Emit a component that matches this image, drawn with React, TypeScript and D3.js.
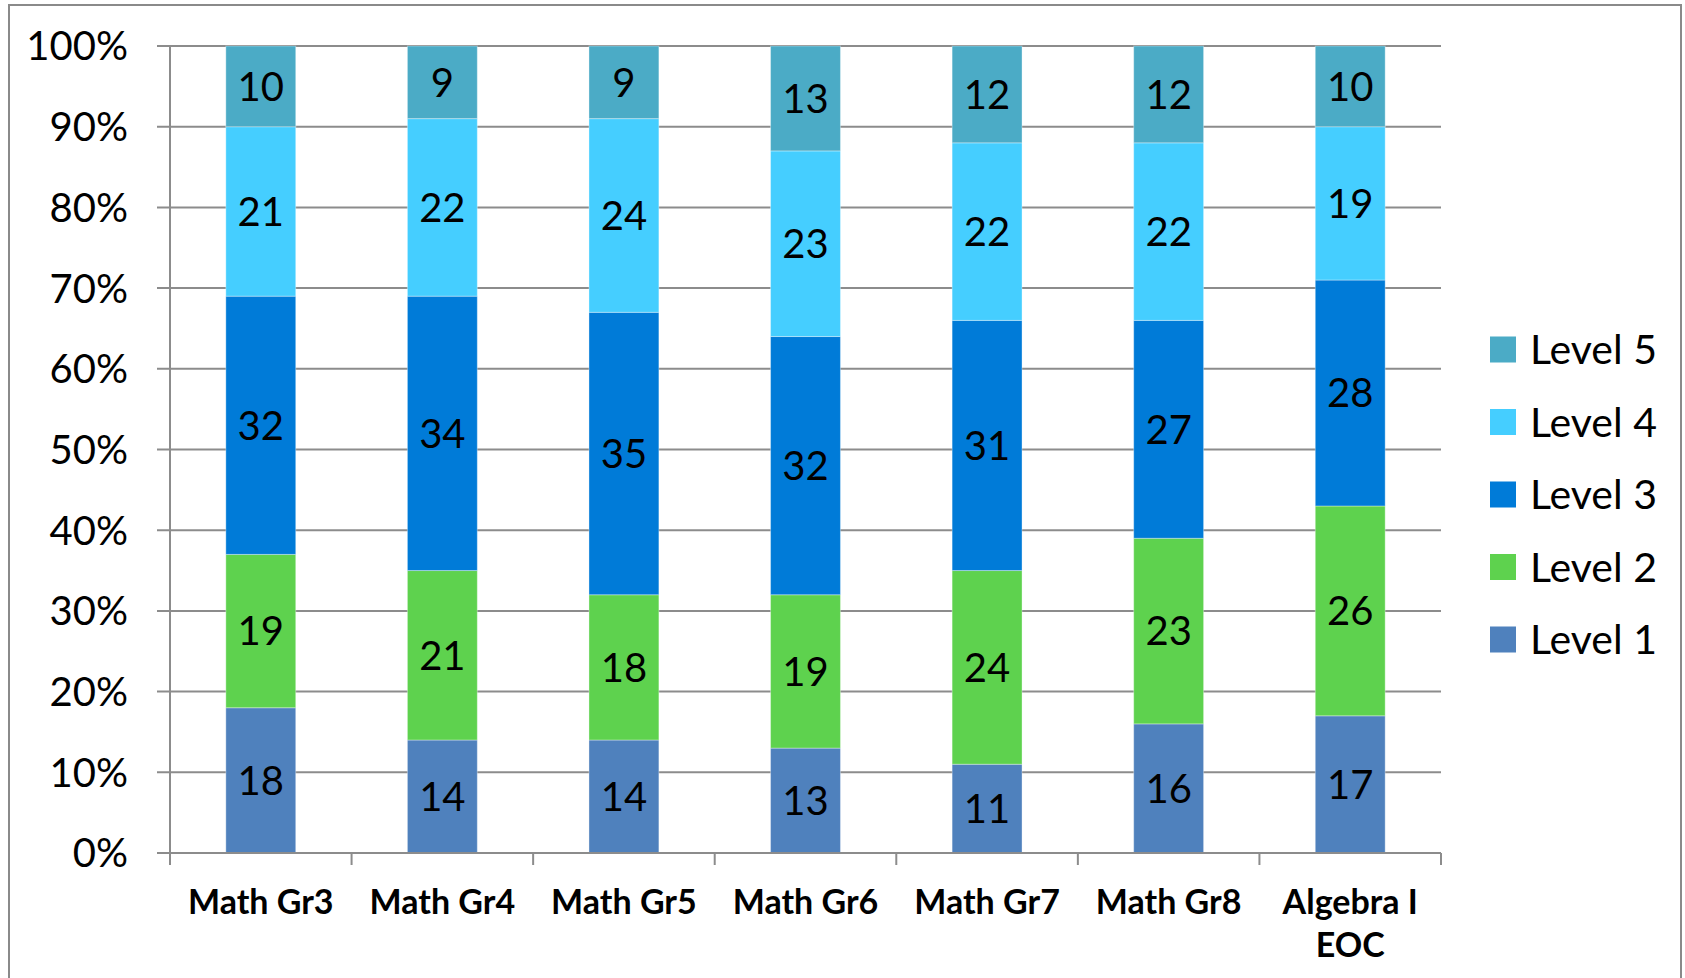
import React from "react";
import * as d3 from "d3";

// Subjects along the x axis (multi-line labels split on "\n")
const categories = [
  "Math Gr3",
  "Math Gr4",
  "Math Gr5",
  "Math Gr6",
  "Math Gr7",
  "Math Gr8",
  "Algebra I\nEOC",
];

// Percent of students at each performance level, per subject
const level1 = [18, 14, 14, 13, 11, 16, 17];
const level2 = [19, 21, 18, 19, 24, 23, 26];
const level3 = [32, 34, 35, 32, 31, 27, 28];
const level4 = [21, 22, 24, 23, 22, 22, 19];
const level5 = [10, 9, 9, 13, 12, 12, 10];

const seriesNames = ["Level 1", "Level 2", "Level 3", "Level 4", "Level 5"];
const seriesValues = [level1, level2, level3, level4, level5];
const seriesColors = ["#4F81BD", "#5ED24E", "#007BD8", "#45CEFF", "#4BABC6"];

const yTicks = [0, 10, 20, 30, 40, 50, 60, 70, 80, 90, 100];

const W = 1685;
const H = 978;
const plot = { left: 170, right: 1441, top: 46, bottom: 853 };
const FONT = "Lato, 'Open Sans', sans-serif";
const GRID = "#8C8C8C";

export default function App() {
  const x = d3
    .scaleBand<string>()
    .domain(categories)
    .range([plot.left, plot.right])
    .paddingInner(0.615)
    .paddingOuter(0.3075);
  const y = d3.scaleLinear().domain([0, 100]).range([plot.bottom, plot.top]);

  const rows = categories.map((c, i) => {
    const r: Record<string, number | string> = { cat: c };
    seriesNames.forEach((s, k) => (r[s] = seriesValues[k][i]));
    return r;
  });
  const stacked = d3.stack<Record<string, number | string>>().keys(seriesNames)(rows as any);

  const step = (plot.right - plot.left) / categories.length;
  const boundaries = d3.range(categories.length + 1).map((i) => plot.left + i * step);

  const legendOrder = [...seriesNames].reverse();

  return (
    <svg
      width={W}
      height={H}
      style={{ position: "absolute", left: 0, top: 0, background: "#fff" }}
      fontFamily={FONT}
    >
      <rect x={0} y={0} width={W} height={H} fill="#fff" />
      <rect x={9} y={5} width={1672} height={H + 20} fill="none" stroke="#8A8A8A" strokeWidth={2} />

      {/* gridlines and y axis labels */}
      {yTicks.map((t) => (
        <g key={t}>
          <line x1={plot.left - 13} x2={plot.right} y1={y(t)} y2={y(t)} stroke={GRID} strokeWidth={2} />
          <text
            x={128}
            y={y(t)}
            dy="0.36em"
            textAnchor="end"
            fontSize={40}
            fill="#000"
          >
            {t}%
          </text>
        </g>
      ))}
      <line x1={plot.left} x2={plot.left} y1={plot.top} y2={plot.bottom} stroke={GRID} strokeWidth={2} />

      {/* stacked bars */}
      {stacked.map((layer, k) => (
        <g key={layer.key}>
          {layer.map((d, i) => {
            const cat = categories[i];
            const x0 = x(cat)!;
            const y0 = y(d[1]);
            const y1 = y(d[0]);
            return (
              <g key={cat}>
                <rect
                  x={x0}
                  y={y0}
                  width={x.bandwidth()}
                  height={y1 - y0}
                  fill={seriesColors[k]}
                  stroke="rgba(255,255,255,0.35)"
                  strokeWidth={1}
                />
                <text
                  x={x0 + x.bandwidth() / 2}
                  y={(y0 + y1) / 2}
                  dy="0.36em"
                  textAnchor="middle"
                  fontSize={40}
                  fill="#000"
                >
                  {seriesValues[k][i]}
                </text>
              </g>
            );
          })}
        </g>
      ))}

      {/* x axis */}
      <line x1={plot.left} x2={plot.right} y1={plot.bottom} y2={plot.bottom} stroke={GRID} strokeWidth={2} />
      {boundaries.map((bx, i) => (
        <line key={i} x1={bx} x2={bx} y1={plot.bottom} y2={plot.bottom + 12} stroke={GRID} strokeWidth={2} />
      ))}
      {categories.map((c) => {
        const lines = c.split("\n");
        return (
          <text
            key={c}
            x={x(c)! + x.bandwidth() / 2}
            y={914}
            textAnchor="middle"
            fontSize={34}
            fontWeight="bold"
            fill="#000"
          >
            {lines.map((l, j) => (
              <tspan key={j} x={x(c)! + x.bandwidth() / 2} dy={j === 0 ? 0 : 43}>
                {l}
              </tspan>
            ))}
          </text>
        );
      })}

      {/* legend */}
      {legendOrder.map((name, i) => {
        const k = seriesNames.indexOf(name);
        const cy = 349.5 + i * 72.5;
        return (
          <g key={name}>
            <rect x={1490} y={cy - 13} width={26} height={26} fill={seriesColors[k]} />
            <text x={1530} y={cy} dy="0.36em" fontSize={41} fill="#000">
              {name}
            </text>
          </g>
        );
      })}
    </svg>
  );
}
